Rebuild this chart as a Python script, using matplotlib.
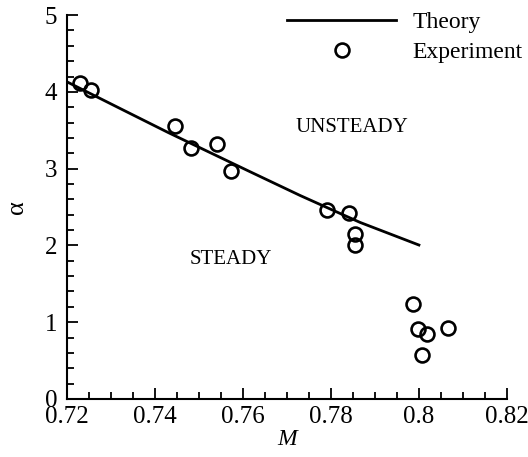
import matplotlib
matplotlib.use("Agg")
import matplotlib.pyplot as plt
from matplotlib.ticker import MultipleLocator

# Theory curve (alpha vs Mach number)
theory_M = [0.720, 0.732, 0.743, 0.7616, 0.773, 0.7866, 0.800]
theory_alpha = [4.13, 3.785, 3.47, 2.96, 2.65, 2.30, 2.005]

# Experimental points
exp_M = [0.7230, 0.7255, 0.7446, 0.7481, 0.7540, 0.7572, 0.7791, 0.7841,
         0.7854, 0.7854, 0.7987, 0.7998, 0.8019, 0.8067, 0.8007]
exp_alpha = [4.11, 4.03, 3.555, 3.264, 3.32, 2.97, 2.46, 2.42,
             2.15, 2.01, 1.237, 0.915, 0.846, 0.924, 0.569]

x_ticks = [0.72, 0.74, 0.76, 0.78, 0.80, 0.82]
x_tick_labels = ['0.72', '0.74', '0.76', '0.78', '0.8', '0.82']

plt.rcParams['font.family'] = ['Liberation Serif', 'DejaVu Serif']

fig = plt.figure(figsize=(5.28, 4.57), dpi=100)
ax = fig.add_axes([0.127, 0.127, 0.833, 0.840])

ax.plot(theory_M, theory_alpha, color='black', linewidth=2.0, label='Theory')
ax.plot(exp_M, exp_alpha, linestyle='none', marker='o', markersize=10,
        markerfacecolor='none', markeredgecolor='black', markeredgewidth=1.9,
        label='Experiment')

ax.set_xlim(0.72, 0.82)
ax.set_ylim(0, 5)
ax.xaxis.set_minor_locator(MultipleLocator(0.005))
ax.yaxis.set_major_locator(MultipleLocator(1))
ax.yaxis.set_minor_locator(MultipleLocator(0.2))
ax.set_xticks(x_ticks)
ax.set_xticklabels(x_tick_labels)

for side in ['top', 'right']:
    ax.spines[side].set_visible(False)
for side in ['left', 'bottom']:
    ax.spines[side].set_linewidth(1.5)

ax.tick_params(which='both', direction='in', width=1.3, labelsize=18)
ax.tick_params(which='major', length=8)
ax.tick_params(axis='y', which='major', pad=7)
ax.tick_params(axis='x', which='major', pad=5)
ax.tick_params(which='minor', length=5)

ax.set_xlabel('M', fontsize=17, fontstyle='italic', labelpad=1)
ax.set_ylabel('α', fontsize=19, labelpad=12)

ax.text(0.7848, 3.53, 'UNSTEADY', fontsize=15, ha='center', va='center')
ax.text(0.7573, 1.81, 'STEADY', fontsize=15, ha='center', va='center')

ax.legend(loc='upper right', bbox_to_anchor=(0.99, 0.974),
          bbox_transform=fig.transFigure, frameon=False, fontsize=17,
          borderpad=0, borderaxespad=0, handlelength=4.6, handletextpad=0.7,
          labelspacing=0.35)

fig.savefig('out.png', dpi=100)
